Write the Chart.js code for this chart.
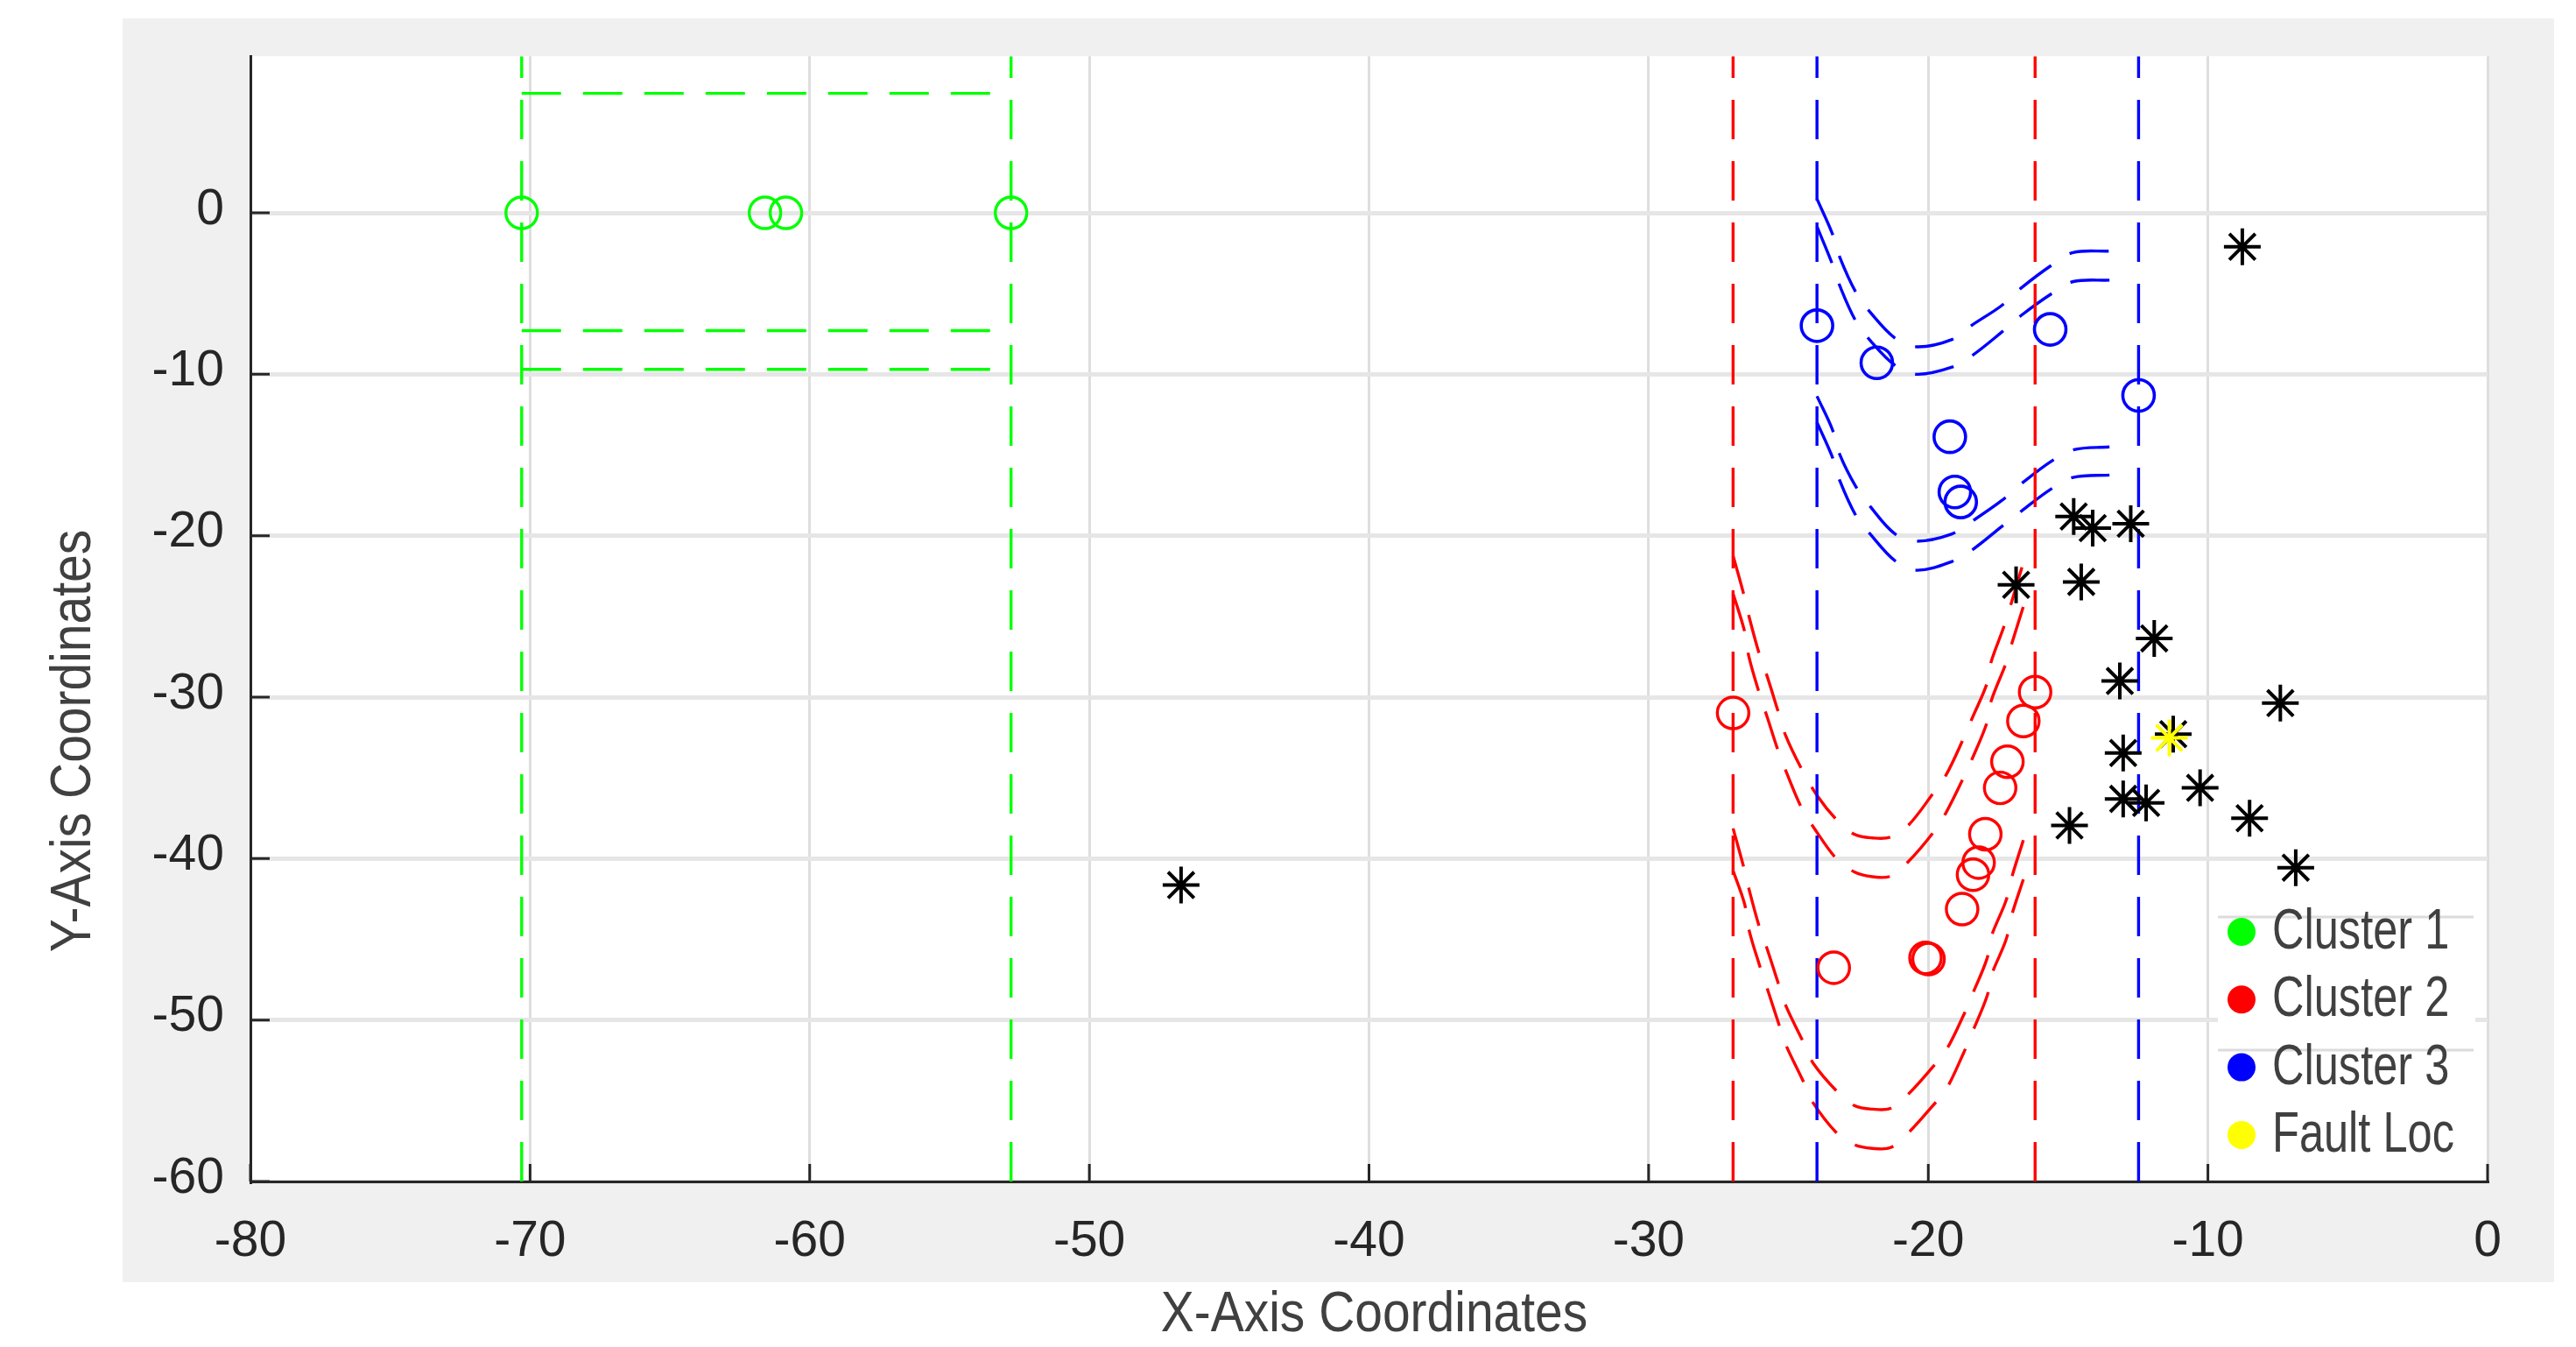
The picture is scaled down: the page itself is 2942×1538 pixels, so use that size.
<!DOCTYPE html>
<html>
<head>
<meta charset="utf-8">
<title>Cluster boundaries</title>
<script src="https://cdn.jsdelivr.net/npm/chart.js@4.4.1/dist/chart.umd.min.js"></script>
<style>
  html, body { margin: 0; padding: 0; background: #fff; }
  canvas { display: block; }
</style>
</head>
<body>
<canvas id="clusterChart" width="2942" height="1538"></canvas>
<script>
// axes
const xTicks = [-80, -70, -60, -50, -40, -30, -20, -10, 0];
const yTicks = [-60, -50, -40, -30, -20, -10, 0];
const xLimits = [-80, 0];
const yLimits = [-60, 9.7];

const seriesNames = ['Cluster 1', 'Cluster 2', 'Cluster 3', 'Fault Loc'];
const seriesColors = ['#00ff00', '#ff0000', '#0000ff', '#ffff00'];

// cluster members
const cluster1X = [-70.3, -61.6, -60.85, -52.8];
const cluster1Y = [0, 0, 0, 0];
const cluster2X = [-26.98, -16.18, -16.6, -17.17, -17.43, -17.96, -18.2, -18.4, -18.79, -19.99, -20.1, -23.38];
const cluster2Y = [-30.98, -29.69, -31.48, -34.0, -35.62, -38.49, -40.25, -41.0, -43.13, -46.22, -46.15, -46.76];
const cluster3X = [-23.98, -21.84, -15.64, -12.48, -19.23, -19.05, -18.84];
const cluster3Y = [-6.99, -9.29, -7.22, -11.31, -13.87, -17.29, -17.91];

// unassigned points (black stars) and the fault location
const otherX = [-8.77, -46.72, -14.8, -14.12, -12.76, -16.86, -14.53, -11.92, -13.15, -7.41, -11.24, -13.03, -10.28, -13.03, -12.21, -14.95, -8.51, -6.86];
const otherY = [-2.1, -41.64, -18.81, -19.53, -19.26, -23.04, -22.86, -26.36, -29.0, -30.37, -32.29, -33.46, -35.62, -36.3, -36.55, -37.95, -37.5, -40.56];
const faultX = [-11.38];
const faultY = [-32.52];

// boundary lines
const greenBoundX = [-70.3, -52.8];
const greenBoxY = [7.4, -7.3, -9.7];
const redBoundX = [-26.98, -16.18];
const blueBoundX = [-23.98, -12.48];

// blue boundary arcs [x, y]
const blueArc1 = [[-23.98, 0.86], [-23.43, -1.29], [-23.17, -2.73], [-22.6, -4.89], [-22.08, -6.15], [-21.19, -7.76], [-20.41, -8.3], [-19.15, -7.85], [-18.43, -6.95], [-17.38, -5.75], [-16.65, -4.62], [-15.61, -3.27], [-14.82, -2.46], [-13.52, -2.37]];
const blueArc2 = [[-23.98, -0.85], [-23.43, -3.18], [-23.17, -4.5], [-22.6, -6.68], [-22.08, -7.9], [-21.19, -9.45], [-20.41, -10.0], [-19.15, -9.56], [-18.43, -8.84], [-17.38, -7.4], [-16.65, -6.32], [-15.61, -5.03], [-14.82, -4.26], [-13.52, -4.17]];
const blueArc3 = [[-23.98, -11.36], [-23.43, -13.42], [-23.17, -14.95], [-22.6, -16.93], [-22.08, -18.18], [-21.19, -19.89], [-20.41, -20.34], [-19.15, -19.89], [-18.43, -19.1], [-17.38, -17.83], [-16.65, -16.75], [-15.61, -15.4], [-14.82, -14.68], [-13.52, -14.5]];
const blueArc4 = [[-23.98, -12.98], [-23.43, -15.13], [-23.17, -16.57], [-22.6, -18.72], [-22.08, -19.89], [-21.19, -21.55], [-20.41, -22.14], [-19.15, -21.6], [-18.43, -20.88], [-17.38, -19.44], [-16.65, -18.45], [-15.61, -17.11], [-14.82, -16.39], [-13.52, -16.24]];

// red boundary arcs [x, y]
const redArc1 = [[-26.98, -21.24], [-26.62, -23.49], [-26.41, -25.01], [-26.04, -27.35], [-25.78, -28.61], [-25.36, -30.94], [-25.1, -32.38], [-24.53, -34.45], [-23.95, -36.16], [-23.28, -37.59], [-22.65, -38.49], [-22.0, -38.72], [-21.35, -38.67], [-20.72, -37.95], [-19.83, -35.97], [-19.36, -34.81], [-18.74, -32.56], [-18.43, -31.3], [-17.9, -29.15], [-17.75, -27.8], [-17.28, -25.55], [-16.65, -21.96]];
const redArc2 = [[-26.98, -23.58], [-26.57, -25.92], [-26.41, -27.53], [-26.04, -29.78], [-25.78, -31.13], [-25.36, -33.37], [-25.1, -34.54], [-24.53, -36.87], [-24.11, -38.04], [-23.28, -40.02], [-22.65, -40.82], [-22.0, -41.12], [-21.35, -41.09], [-20.72, -40.2], [-19.83, -38.4], [-19.36, -37.14], [-18.74, -34.99], [-18.43, -33.82], [-17.9, -31.57], [-17.75, -30.23], [-17.22, -27.89], [-17.02, -26.72], [-16.6, -24.38]];
const redArc3 = [[-26.98, -38.13], [-26.62, -40.4], [-26.41, -41.9], [-26.04, -44.24], [-25.78, -45.5], [-25.36, -47.75], [-25.1, -49.09], [-24.48, -51.33], [-24.11, -52.69], [-23.28, -54.39], [-22.65, -55.29], [-22.0, -55.52], [-21.35, -55.47], [-20.72, -54.6], [-19.83, -52.89], [-19.36, -51.87], [-18.74, -49.71], [-18.43, -48.44], [-17.9, -46.2], [-17.75, -44.85], [-17.22, -42.6], [-17.02, -41.19], [-16.6, -38.85]];
const redArc4 = [[-26.98, -40.75], [-26.57, -42.8], [-26.41, -44.42], [-26.04, -46.58], [-25.78, -47.93], [-25.36, -50.17], [-25.1, -51.51], [-24.48, -53.76], [-24.16, -55.02], [-23.28, -56.99], [-22.65, -57.72], [-22.0, -57.95], [-21.35, -57.9], [-20.72, -57.0], [-19.83, -55.29], [-19.36, -54.29], [-18.74, -52.05], [-18.43, -50.78], [-17.9, -48.53], [-17.75, -47.27], [-17.22, -45.03], [-17.02, -43.53], [-16.6, -41.28]];

const FONT = "'Liberation Sans', Arial, sans-serif";
const TEXT_COLOR = '#262626';
const LABEL_COLOR = '#404040';

const toPoints = (xs, ys) => xs.map((x, i) => ({x: x, y: ys[i]}));
const fromPairs = (pairs) => pairs.map(p => ({x: p[0], y: p[1]}));

function dashed(data, color, tension) {
	return {
		data: data,
		showLine: true,
		borderColor: color,
		borderWidth: 3.4,
		borderDash: [45, 25],
		tension: tension || 0,
		pointRadius: 0,
		pointHoverRadius: 0,
		fill: false,
		order: 3
	};
}

function markers(data, color, style, radius, width, order) {
	return {
		data: data,
		showLine: false,
		pointStyle: style,
		pointRadius: radius,
		pointHoverRadius: radius,
		pointBorderWidth: width,
		borderColor: color,
		pointBorderColor: color,
		backgroundColor: 'rgba(0,0,0,0)',
		pointBackgroundColor: 'rgba(0,0,0,0)',
		order: order
	};
}

const datasets = [];
// vertical boundaries, drawn bottom to top
greenBoundX.forEach(x => datasets.push(dashed([{x: x, y: yLimits[0]}, {x: x, y: yLimits[1]}], seriesColors[0])));
redBoundX.forEach(x => datasets.push(dashed([{x: x, y: yLimits[0]}, {x: x, y: yLimits[1]}], seriesColors[1])));
blueBoundX.forEach(x => datasets.push(dashed([{x: x, y: yLimits[0]}, {x: x, y: yLimits[1]}], seriesColors[2])));
// green box
greenBoxY.forEach(y => datasets.push(dashed([{x: greenBoundX[0], y: y}, {x: greenBoundX[1], y: y}], seriesColors[0])));
// arcs
[redArc1, redArc2, redArc3, redArc4].forEach(a => datasets.push(dashed(fromPairs(a), seriesColors[1], 0.35)));
[blueArc1, blueArc2, blueArc3, blueArc4].forEach(a => datasets.push(dashed(fromPairs(a), seriesColors[2], 0.35)));
// points
datasets.push(markers(toPoints(cluster1X, cluster1Y), seriesColors[0], 'circle', 18, 3.4, 2));
datasets.push(markers(toPoints(cluster2X, cluster2Y), seriesColors[1], 'circle', 18, 3.4, 2));
datasets.push(markers(toPoints(cluster3X, cluster3Y), seriesColors[2], 'circle', 18, 3.6, 2));
datasets.push(markers(toPoints(otherX, otherY), '#000000', 'star', 21, 4, 1));
datasets.push(markers(toPoints(faultX, faultY), seriesColors[3], 'star', 21, 4, 0));

// figure background (grey) and white axes area
const backdrop = {
	id: 'backdrop',
	beforeDraw(chart) {
		const {ctx, chartArea: a} = chart;
		ctx.save();
		ctx.fillStyle = '#ffffff';
		ctx.fillRect(0, 0, chart.width, chart.height);
		ctx.fillStyle = '#f0f0f0';
		ctx.fillRect(140, 21, 2777, 1443);
		ctx.fillStyle = '#ffffff';
		ctx.fillRect(a.left, a.top, a.right - a.left, a.bottom - a.top);
		ctx.restore();
	}
};

// matlab style ticks pointing into the axes
const inwardTicks = {
	id: 'inwardTicks',
	afterDatasetsDraw(chart) {
		const {ctx, chartArea: a, scales} = chart;
		ctx.save();
		ctx.strokeStyle = TEXT_COLOR;
		ctx.lineWidth = 3;
		ctx.beginPath();
		xTicks.forEach(v => {
			const px = scales.x.getPixelForValue(v);
			ctx.moveTo(px, a.bottom);
			ctx.lineTo(px, a.bottom - 20);
		});
		yTicks.forEach(v => {
			const py = scales.y.getPixelForValue(v);
			ctx.moveTo(a.left, py);
			ctx.lineTo(a.left + 22, py);
		});
		ctx.stroke();
		ctx.restore();
	}
};

function narrowText(ctx, text, x, y, squeeze, align) {
	ctx.save();
	ctx.translate(x, y);
	ctx.scale(squeeze, 1);
	ctx.textAlign = align;
	ctx.fillText(text, 0, 0);
	ctx.restore();
}

const axisTitles = {
	id: 'axisTitles',
	afterDraw(chart) {
		const {ctx, chartArea: a} = chart;
		ctx.save();
		ctx.fillStyle = LABEL_COLOR;
		ctx.font = '64px ' + FONT;
		ctx.textBaseline = 'alphabetic';
		narrowText(ctx, 'X-Axis Coordinates', (a.left + a.right) / 2 + 6, 1520, 0.89, 'center');
		ctx.translate(103, 846);
		ctx.rotate(-Math.PI / 2);
		narrowText(ctx, 'Y-Axis Coordinates', 0, 0, 0.89, 'center');
		ctx.restore();
	}
};

const legendBox = {
	id: 'legendBox',
	afterDatasetsDraw(chart) {
		const {ctx} = chart;
		ctx.save();
		ctx.fillStyle = '#ffffff';
		ctx.fillRect(2533, 1018, 294, 326);
		ctx.strokeStyle = '#dcdcdc';
		ctx.lineWidth = 3;
		ctx.beginPath();
		ctx.moveTo(2533, 1047); ctx.lineTo(2825, 1047);
		ctx.moveTo(2533, 1199); ctx.lineTo(2825, 1199);
		ctx.stroke();
		ctx.font = '64px ' + FONT;
		ctx.textBaseline = 'alphabetic';
		seriesNames.forEach((name, i) => {
			const base = 1083 + i * 77.3;
			ctx.fillStyle = seriesColors[i];
			ctx.beginPath();
			ctx.arc(2560, base - 19, 16, 0, Math.PI * 2);
			ctx.fill();
			ctx.fillStyle = LABEL_COLOR;
			narrowText(ctx, name, 2595, base, 0.79, 'left');
		});
		ctx.restore();
	}
};

new Chart(document.getElementById('clusterChart'), {
	type: 'scatter',
	data: {datasets: datasets},
	options: {
		responsive: false,
		animation: false,
		events: [],
		layout: {
			padding: {left: 136, top: 56, right: 101, bottom: 89}
		},
		plugins: {
			legend: {display: false},
			tooltip: {enabled: false}
		},
		scales: {
			x: {
				type: 'linear',
				min: xLimits[0],
				max: xLimits[1],
				afterBuildTicks: scale => { scale.ticks = xTicks.map(v => ({value: v})); },
				afterFit: scale => { scale.height = 100; },
				ticks: {
					autoSkip: false,
					maxRotation: 0,
					padding: 35,
					color: TEXT_COLOR,
					font: {family: FONT, size: 57}
				},
				grid: {color: '#dedede', lineWidth: 3, drawTicks: false},
				border: {display: true, color: TEXT_COLOR, width: 3}
			},
			y: {
				type: 'linear',
				min: yLimits[0],
				max: yLimits[1],
				afterBuildTicks: scale => { scale.ticks = yTicks.map(v => ({value: v})); },
				afterFit: scale => { scale.width = 150; },
				ticks: {
					padding: 30,
					labelOffset: -3,
					color: TEXT_COLOR,
					font: {family: FONT, size: 57}
				},
				grid: {color: '#e6e6e6', lineWidth: 5, drawTicks: false},
				border: {display: true, color: TEXT_COLOR, width: 3}
			}
		}
	},
	plugins: [backdrop, inwardTicks, legendBox, axisTitles]
});
</script>
</body>
</html>
